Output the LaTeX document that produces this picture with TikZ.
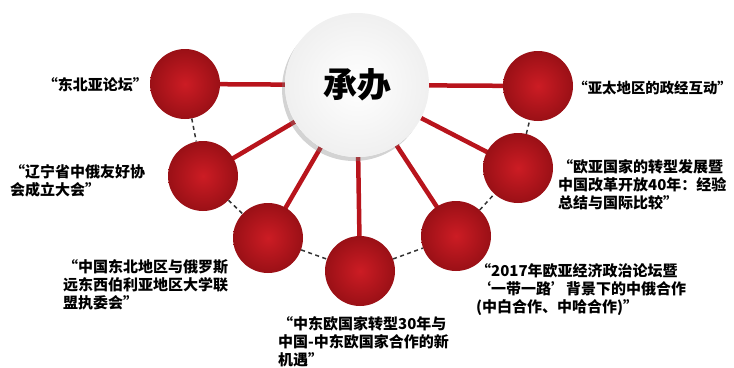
\documentclass[tikz,border=0pt]{standalone}
\usepackage{fontspec}
\newfontfamily\cjk{Noto Sans CJK SC}
\usetikzlibrary{shadows, backgrounds}
\definecolor{ballred}{HTML}{CC1C24}
\definecolor{balldark}{HTML}{9A1016}
\definecolor{linkred}{HTML}{B8141C}
\begin{document}
\begin{tikzpicture}[x=1pt, y=-1pt,
    ball/.style={circle, minimum size=70pt, inner sep=0pt, inner color=ballred, outer color=balldark},
    hub/.style={circle, minimum size=144pt, inner sep=0pt, fill=white, inner color=white, outer color=gray!12,
      drop shadow={shadow xshift=-3pt, shadow yshift=-4pt, opacity=.35}},
    topic/.style={font=\cjk\bfseries\fontsize{15}{18}\selectfont, inner sep=0pt, align=left},
    link/.style={linkred, line width=4.5pt},
    chain/.style={black!80, line width=1.5pt, dash pattern=on 4pt off 3.5pt}]
    \useasboundingbox (0, 0) rectangle (734, 367);

    \node[ball] at (185, 84) (r1) {};
    \node[ball] at (203, 176) (r2) {};
    \node[ball] at (268, 238) (r3) {};
    \node[ball] at (360, 271) (r4) {};
    \node[ball] at (456, 236) (r5) {};
    \node[ball] at (518, 168) (r6) {};
    \node[ball] at (538, 86) (r7) {};

    \node[hub] at (357, 85) (c) {};
    \node[font=\cjk\bfseries\fontsize{34}{34}\selectfont] at (c) (ct) {承办};

    \begin{pgfonlayer}{background}
    \draw[link] (c.center) -- (r1.center);
    \draw[link] (c.center) -- (r2.center);
    \draw[link] (c.center) -- (r3.center);
    \draw[link] (c.center) -- (r4.center);
    \draw[link] (c.center) -- (r5.center);
    \draw[link] (c.center) -- (r6.center);
    \draw[link] (c.center) -- (r7.center);
    \end{pgfonlayer}

    \draw[chain] (r1) -- (r2);
    \draw[chain] (r2) -- (r3);
    \draw[chain] (r3) -- (r4);
    \draw[chain] (r4) -- (r5);
    \draw[chain] (r5) -- (r6);
    \draw[chain] (r6) -- (r7);

    \node[topic, anchor=east] at (148, 85) (t1) {“东北亚论坛”};
    \node[topic, anchor=west] at (10, 181) (t2) {“辽宁省中俄友好协\\会成立大会”};
    \node[topic, anchor=west] at (63, 285) (t3) {“中国东北地区与俄罗斯\\远东西伯利亚地区大学联\\盟执委会”};
    \node[topic, anchor=west] at (278, 342) (t4) {“中东欧国家转型30年与\\中国-中东欧国家合作的新\\机遇”};
    \node[topic, anchor=west] at (476, 290) (t5) {“2017年欧亚经济政治论坛暨\\‘一带一路’背景下的中俄合作\\(中白合作、中哈合作)”};
    \node[topic, anchor=west] at (558, 185) (t6) {“欧亚国家的转型发展暨\\中国改革开放40年：经验\\总结与国际比较”};
    \node[topic, anchor=east, font=\cjk\bfseries\fontsize{14.4}{18}\selectfont] at (732, 88) (t7) {“亚太地区的政经互动”};
\end{tikzpicture}
\end{document}
